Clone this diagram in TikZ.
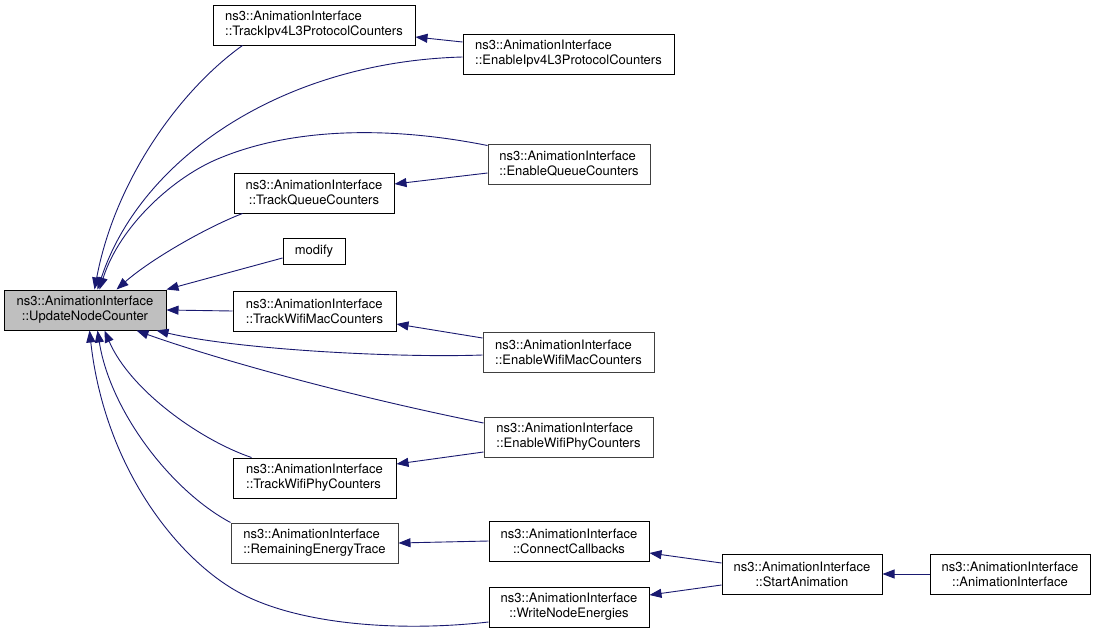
\documentclass[tikz,border=0pt]{standalone}
\usepackage{fontspec}
\setmainfont{TeX Gyre Heros}
\usetikzlibrary{arrows.meta}
\definecolor{edgeblue}{HTML}{191970}
\definecolor{nodegrey}{HTML}{BFBFBF}
\definecolor{bordergrey}{HTML}{404040}
\begin{document}
\begin{tikzpicture}[x=1pt,y=-1pt,
  box/.style={draw=black,line width=1pt,fill=white,inner sep=0pt,
    font=\fontsize{13}{15}\selectfont,minimum height=40pt},
  lbox/.style={box,align=left},
  cbox/.style={box,align=center},
  gb/.style={draw=bordergrey},
  edge/.style={draw=edgeblue,line width=0.9pt,
    -{Triangle[length=12pt,width=9pt]}},
]
\fill[white] (0,0) rectangle (1096,632);
\useasboundingbox (0,0) rectangle (1096,632);

% nodes
\node[cbox,fill=nodegrey,minimum width=162pt] (unc) at (85,310) {ns3::AnimationInterface\\::UpdateNodeCounter};
\node[lbox,minimum width=202pt] (t4) at (314,25) {ns3::AnimationInterface\\::TrackIpv4L3ProtocolCounters};
\node[lbox,minimum width=211pt] (e4) at (568.5,54) {ns3::AnimationInterface\\::EnableIpv4L3ProtocolCounters};
\node[lbox,gb,minimum width=162pt] (eq) at (569,164) {ns3::AnimationInterface\\::EnableQueueCounters};
\node[cbox,minimum width=160pt] (tq) at (314,193) {ns3::AnimationInterface\\::TrackQueueCounters};
\node[cbox,minimum width=62pt,minimum height=26pt] (mod) at (314,251) {modify};
\node[lbox,minimum width=163pt] (tm) at (314.5,311) {ns3::AnimationInterface\\::TrackWifiMacCounters};
\node[lbox,gb,minimum width=171pt] (em) at (568.5,352) {ns3::AnimationInterface\\::EnableWifiMacCounters};
\node[lbox,gb,minimum width=169pt] (ep) at (568.5,437) {ns3::AnimationInterface\\::EnableWifiPhyCounters};
\node[lbox,minimum width=163pt] (tp) at (314.5,478) {ns3::AnimationInterface\\::TrackWifiPhyCounters};
\node[lbox,gb,minimum width=167pt] (re) at (314.5,543) {ns3::AnimationInterface\\::RemainingEnergyTrace};
\node[cbox,minimum width=160pt] (cc) at (569,541) {ns3::AnimationInterface\\::ConnectCallbacks};
\node[cbox,minimum width=160pt] (wn) at (569,607) {ns3::AnimationInterface\\::WriteNodeEnergies};
\node[cbox,minimum width=160pt] (sa) at (802,574) {ns3::AnimationInterface\\::StartAnimation};
\node[cbox,minimum width=160pt] (ai) at (1010,574) {ns3::AnimationInterface\\::AnimationInterface};

% edges into UpdateNodeCounter (top)
\draw[edge] ([xshift=30pt]t4.south west) .. controls (180,90) and (115,180) .. ([xshift=91pt]unc.north west);
\draw[edge] ([yshift=-3pt]e4.west) .. controls (280,62) and (140,160) .. ([xshift=94pt]unc.north west);
\draw[edge] ([yshift=-2pt]eq.north west) .. controls (400,128) and (300,125) .. (220,158)
   .. controls (175,176) and (120,225) .. ([xshift=96pt]unc.north west);
\draw[edge] ([xshift=9pt]tq.south west) .. controls (205,228) and (150,260) .. ([xshift=113pt]unc.north west);
\draw[edge] ([yshift=-7pt]mod.west) -- ([xshift=163pt]unc.north west);
\draw[edge] (tm.west) -- (unc.east);

% edges into UpdateNodeCounter (bottom)
\draw[edge] ([yshift=-3pt]em.west) .. controls (400,358) and (240,350) .. ([xshift=153pt]unc.south west);
\draw[edge] ([yshift=14pt]ep.west) .. controls (320,390) and (190,350) .. ([xshift=133pt]unc.south west);
\draw[edge] ([xshift=19pt]tp.north west) .. controls (200,440) and (130,390) .. ([xshift=101pt]unc.south west);
\draw[edge] (re.north west) .. controls (170,490) and (110,410) .. ([xshift=94pt]unc.south west);
\draw[edge] ([yshift=-15pt]wn.west) .. controls (400,632) and (300,625) .. (240,593)
   .. controls (180,561) and (105,470) .. ([xshift=86pt]unc.south west);

% other edges
\draw[edge] ([yshift=12pt]e4.west) -- ([yshift=-12pt]t4.east);
\draw[edge] ([yshift=-9pt]eq.west) -- ([yshift=9pt]tq.east);
\draw[edge] ([yshift=14pt]em.west) -- ([yshift=-13pt]tm.east);
\draw[edge] ([yshift=-15pt]ep.west) -- ([yshift=14pt]tp.east);
\draw[edge] (cc.west) -- (re.east);
\draw[edge] ([yshift=11pt]sa.west) -- ([yshift=-12pt]cc.east);
\draw[edge] ([yshift=-11pt]sa.west) -- ([yshift=12pt]wn.east);
\draw[edge] (ai.west) -- (sa.east);
\end{tikzpicture}
\end{document}
